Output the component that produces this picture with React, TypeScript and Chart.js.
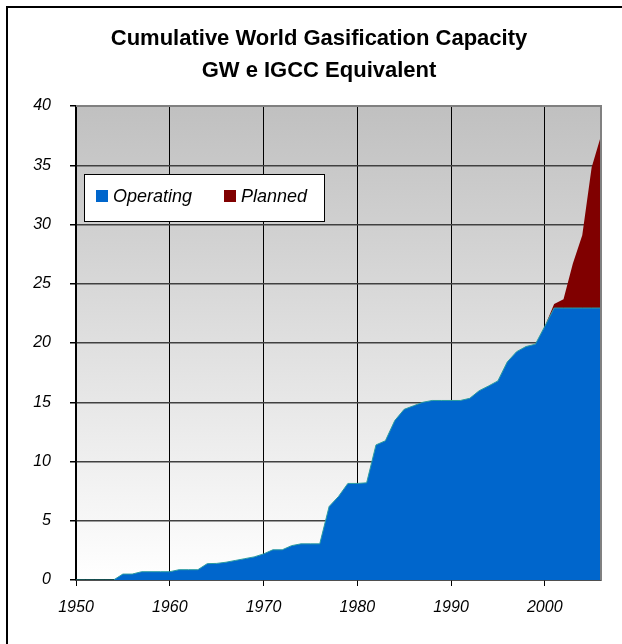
import React, { useEffect, useRef } from "react";
import { Chart, registerables } from "chart.js";

Chart.register(...registerables);

const titleLines = ["Cumulative World Gasification Capacity", "GW e IGCC Equivalent"];

const years = [
  1950, 1951, 1952, 1953, 1954, 1955, 1956, 1957, 1958, 1959,
  1960, 1961, 1962, 1963, 1964, 1965, 1966, 1967, 1968, 1969,
  1970, 1971, 1972, 1973, 1974, 1975, 1976, 1977, 1978, 1979,
  1980, 1981, 1982, 1983, 1984, 1985, 1986, 1987, 1988, 1989,
  1990, 1991, 1992, 1993, 1994, 1995, 1996, 1997, 1998, 1999,
  2000, 2001, 2002, 2003, 2004, 2005, 2006,
];

const operating = [
  0, 0, 0, 0, 0, 0.5, 0.5, 0.7, 0.7, 0.7,
  0.7, 0.87, 0.87, 0.87, 1.38, 1.4, 1.5, 1.65, 1.8, 1.95,
  2.2, 2.55, 2.55, 2.9, 3.05, 3.05, 3.05, 6.2, 7.05, 8.15,
  8.15, 8.2, 11.4, 11.75, 13.45, 14.4, 14.7, 15.0, 15.15, 15.15,
  15.15, 15.15, 15.33, 15.97, 16.37, 16.8, 18.4, 19.27, 19.7, 19.9,
  21.4, 22.95, 22.95, 22.95, 22.95, 22.95, 22.95,
];

const planned = [
  0, 0, 0, 0, 0, 0, 0, 0, 0, 0,
  0, 0, 0, 0, 0, 0, 0, 0, 0, 0,
  0, 0, 0, 0, 0, 0, 0, 0, 0, 0,
  0, 0, 0, 0, 0, 0, 0, 0, 0, 0,
  0, 0, 0, 0, 0, 0, 0, 0, 0, 0,
  0, 0.35, 0.75, 3.75, 6.15, 11.85, 14.55,
];

const seriesNames = ["Operating", "Planned"];
const seriesColors = ["#0066CC", "#800000"];

const xTicks = [1950, 1960, 1970, 1980, 1990, 2000];
const yTicks = [0, 5, 10, 15, 20, 25, 30, 35, 40];

const FONT = "'Liberation Sans', Arial, sans-serif";

const decorPlugin = {
  id: "decor",
  beforeDraw(chart: any) {
    const { ctx, chartArea, width, height } = chart;
    ctx.save();
    ctx.fillStyle = "#ffffff";
    ctx.fillRect(0, 0, width, height);
    const g = ctx.createLinearGradient(0, chartArea.top, 0, chartArea.bottom);
    g.addColorStop(0, "#c0c0c0");
    g.addColorStop(1, "#ffffff");
    ctx.fillStyle = g;
    ctx.fillRect(chartArea.left, chartArea.top, chartArea.right - chartArea.left, chartArea.bottom - chartArea.top);
    // outer border (left and top)
    ctx.strokeStyle = "#000000";
    ctx.lineWidth = 2;
    ctx.beginPath();
    ctx.moveTo(7, height);
    ctx.lineTo(7, 7);
    ctx.lineTo(width, 7);
    ctx.stroke();
    ctx.restore();
  },
  afterDatasetsDraw(chart: any) {
    const { ctx, chartArea } = chart;
    ctx.save();
    ctx.strokeStyle = "#808080";
    ctx.lineWidth = 2;
    ctx.beginPath();
    ctx.moveTo(chartArea.left, chartArea.top);
    ctx.lineTo(chartArea.right, chartArea.top);
    ctx.lineTo(chartArea.right, chartArea.bottom);
    ctx.stroke();
    ctx.restore();
  },
  afterDraw(chart: any) {
    const { ctx } = chart;
    ctx.save();
    // title
    ctx.fillStyle = "#000000";
    ctx.font = `bold 22px ${FONT}`;
    ctx.textAlign = "center";
    ctx.textBaseline = "middle";
    ctx.fillText(titleLines[0], 319, 39);
    ctx.fillText(titleLines[1], 319, 71);
    // legend
    const bx = 84, by = 174, bw = 240, bh = 47;
    ctx.fillStyle = "#ffffff";
    ctx.fillRect(bx, by, bw, bh);
    ctx.strokeStyle = "#000000";
    ctx.lineWidth = 1;
    ctx.strokeRect(bx + 0.5, by + 0.5, bw, bh);
    const items = [
      { x: 96, tx: 113 },
      { x: 224, tx: 241 },
    ];
    ctx.font = `italic 18px ${FONT}`;
    ctx.textAlign = "left";
    ctx.textBaseline = "alphabetic";
    chart.data.datasets.forEach((ds: any, i: number) => {
      const it = items[i];
      ctx.fillStyle = ds.backgroundColor;
      ctx.fillRect(it.x, 190, 12, 12);
      ctx.fillStyle = "#000000";
      ctx.fillText(ds.label, it.tx, 202);
    });
    ctx.restore();
  },
};

export default function App() {
  const ref = useRef<HTMLCanvasElement | null>(null);
  useEffect(() => {
    if (!ref.current) return;
    const chart = new Chart(ref.current, {
      type: "line",
      data: {
        datasets: [
          {
            label: seriesNames[0],
            data: years.map((y, i) => ({ x: y, y: operating[i] })),
            backgroundColor: seriesColors[0],
            borderColor: "#2a9da0",
            borderWidth: 1,
            fill: "origin",
            pointRadius: 0,
            tension: 0,
          },
          {
            label: seriesNames[1],
            data: years.map((y, i) => ({ x: y, y: planned[i] })),
            backgroundColor: seriesColors[1],
            borderColor: seriesColors[1],
            borderWidth: 0,
            fill: "-1",
            pointRadius: 0,
            tension: 0,
          },
        ],
      },
      options: {
        responsive: false,
        animation: false,
        layout: { padding: { left: 0, top: 106, right: 21, bottom: 0 } },
        plugins: {
          legend: { display: false },
          title: { display: false },
          tooltip: { enabled: false },
        },
        scales: {
          x: {
            type: "linear",
            min: 1950,
            max: 2006,
            afterBuildTicks: (s: any) => {
              s.ticks = xTicks.map((v) => ({ value: v }));
            },
            afterFit: (s: any) => {
              s.height = 64;
            },
            grid: { color: "#000000", lineWidth: 1, tickLength: 6, tickColor: "#000000" },
            border: { color: "#000000", width: 1.5 },
            ticks: {
              color: "#000000",
              font: { family: FONT, size: 16, style: "italic" },
              padding: 12,
              maxRotation: 0,
              callback: (v: any) => String(v),
            },
          },
          y: {
            stacked: true,
            min: 0,
            max: 40,
            afterBuildTicks: (s: any) => {
              s.ticks = yTicks.map((v) => ({ value: v }));
            },
            afterFit: (s: any) => {
              s.width = 76;
            },
            grid: { color: "#404040", lineWidth: 1.5, tickLength: 6, tickColor: "#000000" },
            border: { color: "#000000", width: 1.5 },
            ticks: {
              color: "#000000",
              font: { family: FONT, size: 16, style: "italic" },
              padding: 19,
              callback: (v: any) => String(v),
            },
          },
        },
      },
      plugins: [decorPlugin],
    });
    return () => chart.destroy();
  }, []);
  return (
    <div style={{ position: "fixed", left: 0, top: 0, width: 622, height: 644 }}>
      <canvas ref={ref} width={622} height={644} style={{ width: 622, height: 644 }} />
    </div>
  );
}
